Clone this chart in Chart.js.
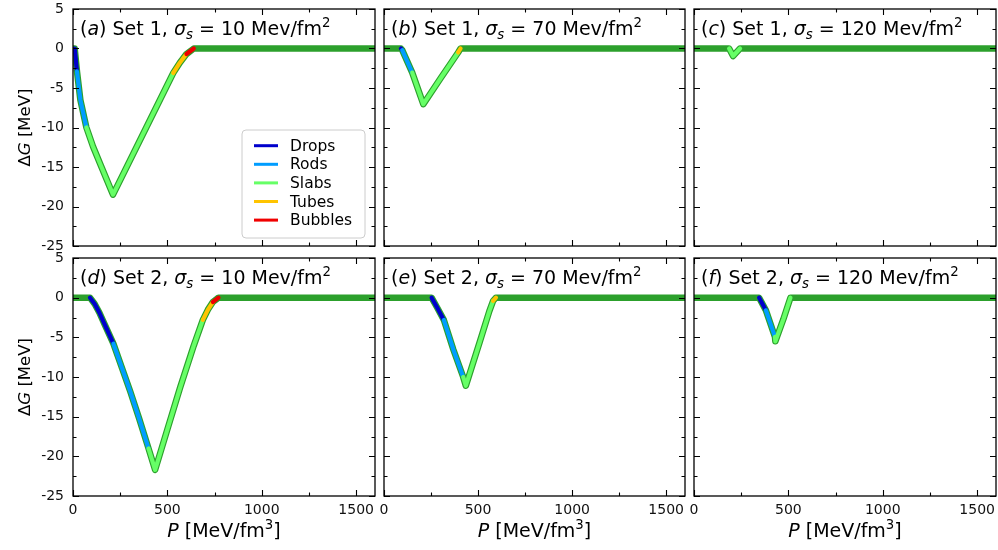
<!DOCTYPE html>
<html>
<head>
<meta charset="utf-8">
<script src="https://cdn.jsdelivr.net/npm/chart.js@4.4.1/dist/chart.umd.min.js"></script>
<style>
  html, body { margin: 0; padding: 0; background: #fff; }
  #wrap { position: relative; width: 998px; height: 550px; }
  #wrap canvas { position: absolute; left: 0; top: 0; }
</style>
</head>
<body>
<div id="wrap"></div>
<script>
// phases of the pasta structures
const phaseKeys = ['D', 'R', 'S', 'T', 'B'];
const phaseNames = ['Drops', 'Rods', 'Slabs', 'Tubes', 'Bubbles'];

// panel labels
const panelTags = ['a', 'b', 'c', 'd', 'e', 'f'];
const panelSets = ['1', '1', '1', '2', '2', '2'];
const panelSigmas = ['10', '70', '120', '10', '70', '120'];

// axis ticks
const xTickVals = [0, 500, 1000, 1500];
const yTickVals = [5, 0, -5, -10, -15, -20, -25];
const xTickStep = 500;
const yTickStep = 5;

// (a) Set 1, sigma = 10
const aP = [0, 9, 21, 39, 71, 106, 142, 212, 531, 566, 601, 640, 1600];
const aG = [0, 0, -2.9, -6.5, -10.0, -12.4, -14.5, -18.5, -3.1, -1.8, -0.7, 0, 0];
const aPh = ['-', 'D', 'R', 'R', 'S', 'S', 'S', 'S', 'T', 'T', 'B', '-', '-'];

// (b) Set 1, sigma = 70
const bP = [0, 90, 97, 150, 209, 300, 394, 407, 1600];
const bG = [0, 0, -0.2, -3.05, -7.05, -3.8, -0.5, 0, 0];
const bPh = ['-', 'D', 'R', 'S', 'S', 'S', 'T', '-', '-'];

// (c) Set 1, sigma = 120
const cP = [0, 186, 207, 244, 1600];
const cG = [0, 0, -0.95, 0, 0];
const cPh = ['-', 'S', 'S', '-', '-'];

// (d) Set 2, sigma = 10
const dP = [0, 90, 115, 140, 170, 214, 260, 303, 350, 400, 435, 500, 568, 639, 688, 715, 741, 771, 1600];
const dG = [0, 0, -0.8, -1.9, -3.5, -5.8, -8.9, -11.8, -15.2, -19.0, -21.7, -16.6, -11.3, -6.1, -2.8, -1.5, -0.55, 0, 0];
const dPh = ['-', 'D', 'D', 'D', 'D', 'R', 'R', 'R', 'R', 'S', 'S', 'S', 'S', 'S', 'T', 'T', 'B', '-', '-'];

// (e) Set 2, sigma = 70
const eP = [0, 253, 283, 318, 368, 421, 435, 510, 560, 580, 595, 1600];
const eG = [0, 0, -1.27, -2.8, -6.5, -10.0, -11.1, -5.5, -1.7, -0.4, 0, 0];
const ePh = ['-', 'D', 'D', 'R', 'R', 'S', 'S', 'S', 'S', 'T', '-', '-'];

// (f) Set 2, sigma = 120
const fP = [0, 345, 381, 429, 431, 473, 511, 1600];
const fG = [0, 0, -1.6, -4.95, -5.5, -2.75, 0, 0];
const fPh = ['-', 'D', 'R', 'S', 'S', 'S', '-', '-'];

const allP = [aP, bP, cP, dP, eP, fP];
const allG = [aG, bG, cG, dG, eG, fG];
const allPh = [aPh, bPh, cPh, dPh, ePh, fPh];

const phaseColors = { D: '#0000cc', R: '#009dff', S: '#66ff66', T: '#ffc400', B: '#f00000' };
const outlineColor = '#2ca02c';
const FONT = "'DejaVu Sans', sans-serif";

// panel frame in page pixels
const colLeft = [73, 384, 694];
const colRight = [375, 685, 996];
const rowTop = [9, 258];
const rowBottom = [246, 496];
const YW = 50, XH = 30;

// draw text made of parts with italic / sub / superscript
function richWidth(ctx, parts, size) {
    let w = 0;
    parts.forEach(p => {
        const s = p.sub || p.sup ? size * 0.7 : size;
        ctx.font = (p.it ? 'italic ' : '') + s + 'px ' + FONT;
        w += ctx.measureText(p.t).width;
    });
    return w;
}
function drawRich(ctx, parts, x, y, size) {
    parts.forEach(p => {
        const s = p.sub || p.sup ? size * 0.7 : size;
        ctx.font = (p.it ? 'italic ' : '') + s + 'px ' + FONT;
        let dy = 0;
        if (p.sub) dy = size * 0.22;
        if (p.sup) dy = -size * 0.42;
        ctx.fillText(p.t, x, y + dy);
        x += ctx.measureText(p.t).width;
    });
}

const framePlugin = {
    id: 'frame',
    afterDraw(chart, args, opts) {
        const { ctx, chartArea: a, scales: { x, y } } = chart;
        ctx.save();
        // inward ticks on all four sides
        ctx.strokeStyle = '#000';
        ctx.lineWidth = 1.1;
        ctx.beginPath();
        for (let v = x.min; v <= x.max; v += xTickStep / 2) {
            const px = Math.round(x.getPixelForValue(v)) + 0.5;
            const len = v % xTickStep === 0 ? 6 : 3.5;
            ctx.moveTo(px, a.bottom); ctx.lineTo(px, a.bottom - len);
            ctx.moveTo(px, a.top); ctx.lineTo(px, a.top + len);
        }
        for (let v = y.min; v <= y.max; v += yTickStep / 2) {
            const py = Math.round(y.getPixelForValue(v)) + 0.5;
            const len = v % yTickStep === 0 ? 6 : 3.5;
            ctx.moveTo(a.left, py); ctx.lineTo(a.left + len, py);
            ctx.moveTo(a.right, py); ctx.lineTo(a.right - len, py);
        }
        ctx.stroke();
        ctx.lineWidth = 1.3;
        ctx.strokeRect(a.left, a.top, a.right - a.left, a.bottom - a.top);

        // panel title
        ctx.fillStyle = '#000';
        ctx.textBaseline = 'alphabetic';
        ctx.textAlign = 'left';
        drawRich(ctx, [
            { t: '(' }, { t: opts.tag, it: 1 }, { t: ') Set ' + opts.set + ', ' },
            { t: 'σ', it: 1 }, { t: 's', it: 1, sub: 1 },
            { t: ' = ' + opts.sigma + ' Mev/fm' }, { t: '2', sup: 1 }
        ], a.left + 7, a.top + 26, 19);

        // axis titles
        if (opts.xTitle) {
            const parts = [{ t: 'P', it: 1 }, { t: ' [MeV/fm' }, { t: '3', sup: 1 }, { t: ']' }];
            const w = richWidth(ctx, parts, 19);
            drawRich(ctx, parts, (a.left + a.right) / 2 - w / 2, 537, 19);
        }
        if (opts.yTitle) {
            const parts = [{ t: 'Δ' }, { t: 'G', it: 1 }, { t: ' [MeV]' }];
            const w = richWidth(ctx, parts, 16.5);
            ctx.save();
            ctx.translate(30, (a.top + a.bottom) / 2);
            ctx.rotate(-Math.PI / 2);
            drawRich(ctx, parts, -w / 2, 0, 16.5);
            ctx.restore();
        }

        // legend
        if (opts.legend) {
            const bw = 123, bh = 108;
            const bx = a.right - 10 - bw, by = a.bottom - 8 - bh;
            ctx.beginPath();
            ctx.roundRect(bx, by, bw, bh, 4);
            ctx.fillStyle = 'rgba(255,255,255,0.85)';
            ctx.fill();
            ctx.strokeStyle = '#cccccc';
            ctx.lineWidth = 1;
            ctx.stroke();
            ctx.textBaseline = 'middle';
            ctx.font = '15.5px ' + FONT;
            phaseKeys.forEach((k, i) => {
                const cy = by + 15.7 + i * 18.6;
                ctx.strokeStyle = phaseColors[k];
                ctx.lineWidth = 3;
                ctx.beginPath();
                ctx.moveTo(bx + 12, cy); ctx.lineTo(bx + 36, cy);
                ctx.stroke();
                ctx.fillStyle = '#000';
                ctx.fillText(phaseNames[i], bx + 48, cy + 1);
            });
        }
        ctx.restore();
    }
};

function zeroPad(s) {
    s.paddingTop = 0;
    s.paddingBottom = 0;
    s.paddingLeft = 0;
    s.paddingRight = 0;
}

const wrap = document.getElementById('wrap');

for (let i = 0; i < 6; i++) {
    const row = Math.floor(i / 3), col = i % 3;
    const L = colLeft[col], R = colRight[col], T = rowTop[row], B = rowBottom[row];
    const P = allP[i], G = allG[i], ph = allPh[i];
    const pts = P.map((p, k) => ({ x: p, y: G[k] }));
    const dip = pts.slice(1, -1);
    const dipPh = ph.slice(1, -1);

    const canvas = document.createElement('canvas');
    canvas.width = 998;
    canvas.height = 550;
    wrap.appendChild(canvas);

    new Chart(canvas, {
        type: 'line',
        data: {
            datasets: [
                {
                    label: 'outline',
                    data: pts,
                    borderColor: outlineColor,
                    borderWidth: 6.5,
                    borderJoinStyle: 'round',
                    pointRadius: 0,
                    order: 2
                },
                {
                    label: 'phase',
                    data: dip,
                    borderColor: phaseColors.S,
                    borderWidth: 4.2,
                    borderJoinStyle: 'round',
                    borderCapStyle: 'round',
                    pointRadius: 0,
                    segment: {
                        borderColor: c => phaseColors[dipPh[c.p0DataIndex]] || phaseColors.S
                    },
                    order: 1
                }
            ]
        },
        options: {
            responsive: false,
            animation: false,
            events: [],
            layout: {
                padding: { left: L - YW, right: 998 - R, top: T, bottom: 550 - B - XH }
            },
            scales: {
                x: {
                    type: 'linear',
                    min: 0,
                    max: 1600,
                    grid: { display: false, drawTicks: false },
                    border: { display: false },
                    afterBuildTicks: s => { s.ticks = xTickVals.map(v => ({ value: v })); },
                    ticks: {
                        display: row === 1,
                        autoSkip: false,
                        maxRotation: 0,
                        padding: 6,
                        color: '#111',
                        font: { family: FONT, size: 14 },
                        callback: v => String(v)
                    },
                    afterFit: s => { s.height = XH; zeroPad(s); }
                },
                y: {
                    type: 'linear',
                    min: -25,
                    max: 5,
                    grid: { display: false, drawTicks: false },
                    border: { display: false },
                    afterBuildTicks: s => { s.ticks = yTickVals.map(v => ({ value: v })); },
                    ticks: {
                        display: col === 0,
                        autoSkip: false,
                        padding: 9,
                        color: '#111',
                        font: { family: FONT, size: 14 },
                        callback: v => String(v)
                    },
                    afterFit: s => { s.width = YW; zeroPad(s); }
                }
            },
            plugins: {
                legend: { display: false },
                tooltip: { enabled: false },
                frame: {
                    tag: panelTags[i],
                    set: panelSets[i],
                    sigma: panelSigmas[i],
                    xTitle: row === 1,
                    yTitle: col === 0,
                    legend: i === 0
                }
            }
        },
        plugins: [framePlugin]
    });
}
</script>
</body>
</html>
